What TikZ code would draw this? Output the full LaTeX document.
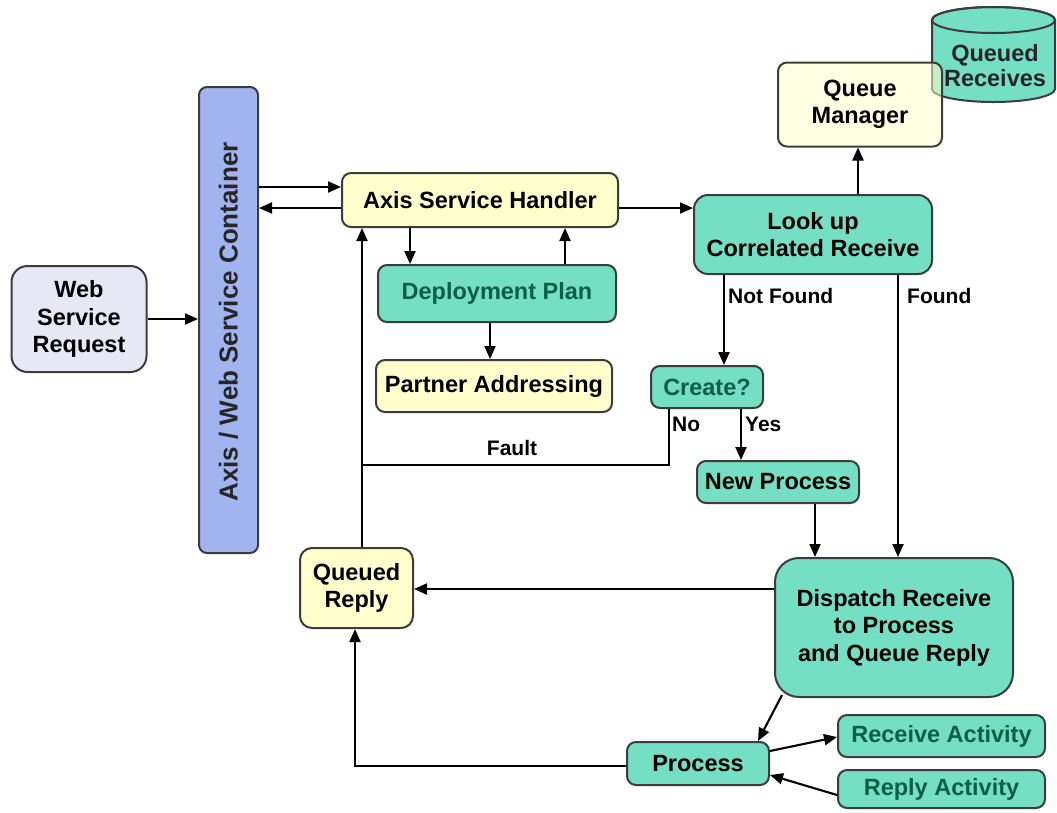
\documentclass[tikz,border=0pt]{standalone}
\usepackage{fontspec}
\setmainfont{Liberation Sans}
\usetikzlibrary{arrows.meta}
\definecolor{tealfill}{HTML}{74DFC3}
\definecolor{tealtext}{HTML}{0B5E4A}
\definecolor{yellowfill}{HTML}{FFFFCC}
\definecolor{lavfill}{HTML}{E8E8F4}
\definecolor{bluefill}{HTML}{A2B4F0}
\definecolor{edge}{HTML}{3C3C3C}
\begin{document}
\begin{tikzpicture}[x=1pt,y=-1pt,
  box/.style={draw=edge,line width=2pt,rounded corners=9pt,align=center,
    font=\fontsize{23.5}{27.5}\selectfont\bfseries,inner sep=0pt},
  tealbox/.style={box,fill=tealfill},
  tealdark/.style={box,fill=tealfill,text=tealtext},
  yelbox/.style={box,fill=yellowfill},
  arr/.style={-{Triangle[length=13pt,width=11pt]},line width=2.1pt},
  ln/.style={line width=2.1pt},
  lbl/.style={font=\fontsize{21}{24}\selectfont\bfseries,inner sep=0pt}]
\useasboundingbox (0,0) rectangle (1057,812);

% left side: request and container
\node[box,fill=lavfill,rounded corners=16pt,minimum width=135,minimum height=106] (wsr) at (79,319) {Web\\Service\\Request};
\node[box,fill=bluefill,rounded corners=8pt,minimum width=59,minimum height=466] (cont) at (228.5,320) {};
\node[font=\fontsize{26}{30}\selectfont\bfseries,text=black!85,rotate=90] (contlbl) at (228.5,322) {Axis / Web Service Container};

% handler and deployment
\node[yelbox,minimum width=276,minimum height=54] (ash) at (480,200) {Axis Service Handler};
\node[tealdark,minimum width=238,minimum height=57] (dp) at (497,293.5) {Deployment Plan};
\node[yelbox,minimum width=236,minimum height=52] (pa) at (494,386) {Partner Addressing};

% queue storage
\filldraw[fill=tealfill,draw=edge,line width=2pt]
  (932,20) -- (932,89) arc[start angle=180,end angle=0,x radius=61.5,y radius=13]
  -- (1055,20) arc[start angle=0,end angle=-180,x radius=61.5,y radius=13] -- cycle;
\draw[edge,line width=2pt] (993.5,20) ellipse[x radius=61.5,y radius=13];
\node[yelbox,fill opacity=0.55,text opacity=1,minimum width=164,minimum height=84] (qm) at (860,104.5) {Queue\\Manager};
\node[font=\fontsize{23.5}{25}\selectfont\bfseries,align=center,text=black!85] (qrcv) at (995,66) {Queued\\Receives};

% lookup path
\node[tealbox,rounded corners=14pt,minimum width=238,minimum height=79] (lk) at (813,234.5) {Look up\\Correlated Receive};
\node[tealdark,minimum width=112,minimum height=42] (cr) at (707,387) {Create?};
\node[tealbox,minimum width=162,minimum height=42] (np) at (778,482) {New Process};
\node[tealbox,rounded corners=24pt,minimum width=238,minimum height=139] (dr) at (894,627.5) {Dispatch Receive\\to Process\\and Queue Reply};
\node[yelbox,rounded corners=12pt,minimum width=113,minimum height=80] (qrep) at (356.5,588) {Queued\\Reply};
\node[tealbox,minimum width=142,minimum height=43] (pr) at (698,763.5) {Process};
\node[tealdark,minimum width=207,minimum height=42] (ra) at (941.5,736) {Receive Activity};
\node[tealdark,minimum width=207,minimum height=38] (ya) at (941.5,789) {Reply Activity};

% branch labels
\node[lbl,anchor=west] (nf) at (728,296) {Not Found};
\node[lbl,anchor=west] (fd) at (907,296) {Found};
\node[lbl,anchor=west] (yes) at (745,424) {Yes};
\node[lbl,anchor=west] (no) at (672,424) {No};
\node[lbl] (flt) at (512,448) {Fault};

% connectors
\draw[arr] (wsr.east) -- (wsr.east -| cont.west);
\draw[arr] (cont.east |- 0,187) -- (ash.west |- 0,187);
\draw[arr] (ash.west |- 0,208) -- (cont.east |- 0,208);
\draw[arr] (ash.south -| 410,0) -- (dp.north -| 410,0);
\draw[arr] (dp.north -| 565,0) -- (ash.south -| 565,0);
\draw[arr] (dp.south -| 490,0) -- (pa.north -| 490,0);
\draw[arr] (ash.east |- 0,208) -- (lk.west |- 0,208);
\draw[arr] (lk.north -| 858,0) -- (qm.south -| 858,0);
\draw[arr] (lk.south -| 724,0) -- (cr.north -| 724,0);
\draw[arr] (lk.south -| 898,0) -- (dr.north -| 898,0);
\draw[arr] (cr.south -| 741,0) -- (np.north -| 741,0);
\coordinate (nobend) at (669,465);
\coordinate (faultj) at (362,465);
\draw[ln] (cr.south -| 669,0) -- (nobend) -- (faultj);
\draw[arr] (qrep.north -| 362,0) -- (ash.south -| 362,0);
\draw[arr] (np.south -| 815,0) -- (dr.north -| 815,0);
\draw[arr] (dr.west |- 0,589) -- (qrep.east |- 0,589);
\draw[arr] (782,695) -- (pr.north -| 758,0);
\coordinate (prbend) at (355,766);
\draw[arr] (pr.west |- prbend) -- (prbend) -- (qrep.south -| prbend);
\draw[arr] (pr.east |- 0,751) -- (ra.west |- 0,737);
\draw[arr] (ya.west |- 0,795) -- (pr.east |- 0,775);
\end{tikzpicture}
\end{document}
